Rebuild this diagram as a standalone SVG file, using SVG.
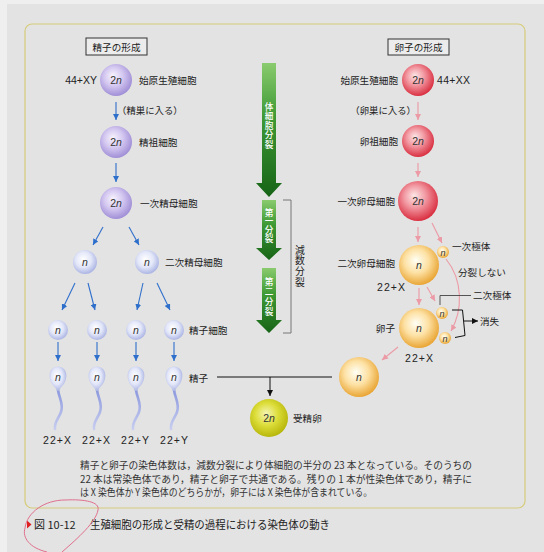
<svg xmlns="http://www.w3.org/2000/svg" width="544" height="552" viewBox="0 0 544 552">
<defs>
  <radialGradient id="gP" cx="0.45" cy="0.42" r="0.6" fx="0.4" fy="0.36">
    <stop offset="0" stop-color="#f7f3fd"/><stop offset="0.5" stop-color="#d3c7f0"/><stop offset="1" stop-color="#9d8bd5"/>
  </radialGradient>
  <radialGradient id="gN" cx="0.45" cy="0.42" r="0.6" fx="0.42" fy="0.38">
    <stop offset="0" stop-color="#ffffff"/><stop offset="0.55" stop-color="#e2e6f8"/><stop offset="1" stop-color="#a7b1e2"/>
  </radialGradient>
  <radialGradient id="gR" cx="0.45" cy="0.42" r="0.6" fx="0.4" fy="0.36">
    <stop offset="0" stop-color="#fce6e6"/><stop offset="0.45" stop-color="#f29aa3"/><stop offset="1" stop-color="#d82a3c"/>
  </radialGradient>
  <radialGradient id="gO" cx="0.45" cy="0.42" r="0.6" fx="0.42" fy="0.38">
    <stop offset="0" stop-color="#fffff6"/><stop offset="0.5" stop-color="#fde1a4"/><stop offset="1" stop-color="#e8a22e"/>
  </radialGradient>
  <radialGradient id="gY" cx="0.45" cy="0.42" r="0.6" fx="0.42" fy="0.38">
    <stop offset="0" stop-color="#f4f4b4"/><stop offset="0.5" stop-color="#dddd3a"/><stop offset="1" stop-color="#b4b408"/>
  </radialGradient>
  <linearGradient id="gG" x1="0" y1="0" x2="0" y2="1">
    <stop offset="0" stop-color="#8acb6e"/><stop offset="0.4" stop-color="#3f9a35"/><stop offset="1" stop-color="#166316"/>
  </linearGradient>
  <linearGradient id="gT" x1="0" y1="0" x2="0" y2="1">
    <stop offset="0" stop-color="#8d99de"/><stop offset="1" stop-color="#c6cdef"/>
  </linearGradient>
  <marker id="ab" markerWidth="6" markerHeight="6" refX="6" refY="3" orient="auto" markerUnits="userSpaceOnUse">
    <path d="M0,0 L6,3 L0,6 Z" fill="#2f6fcc"/>
  </marker>
  <marker id="ap" markerWidth="6" markerHeight="6" refX="6" refY="3" orient="auto" markerUnits="userSpaceOnUse">
    <path d="M0,0 L6,3 L0,6 Z" fill="#ec9aa6"/>
  </marker>
  <marker id="ak" markerWidth="6" markerHeight="6" refX="6" refY="3" orient="auto" markerUnits="userSpaceOnUse">
    <path d="M0,0 L6,3 L0,6 Z" fill="#111"/>
  </marker>
</defs>
<style>
  .jp{font-family:"Noto Sans CJK JP","Noto Sans CJK SC",sans-serif;font-size:9.6px;fill:#222}
  .end{text-anchor:end}
  .num{font-family:"Liberation Sans",Arial,sans-serif;font-size:10.5px;fill:#222}
  .mid{text-anchor:middle}
  .cn{font-family:"Liberation Sans",Arial,sans-serif;font-size:10.5px;fill:#333;text-anchor:middle}
  .it{font-style:italic}
  .blue{stroke:#2f6fcc;stroke-width:1.1;fill:none;marker-end:url(#ab)}
  .pink{stroke:#ec9aa6;stroke-width:1.1;fill:none;marker-end:url(#ap)}
  .vt{font-family:"Noto Sans CJK JP",sans-serif;font-size:8.6px;fill:#fff;writing-mode:vertical-rl;font-weight:500}
  .vk{font-family:"Noto Sans CJK JP",sans-serif;font-size:9.8px;fill:#222;writing-mode:vertical-rl}
  .tail{stroke:url(#gT);stroke-width:2.6;fill:none;stroke-linecap:round}
</style>

<!-- page background and frame -->
<rect width="544" height="552" fill="#e3e3e3"/>
<rect width="544" height="4" fill="#efefef"/>
<rect width="7" height="552" fill="#efefef"/>
<rect x="25" y="24" width="500" height="484" rx="7" fill="#e3e3e3" stroke="#d6cc7a" stroke-width="1.2"/>

<!-- section headings -->
<g id="head-sperm">
  <rect x="86" y="38" width="61" height="17" fill="#ececec" stroke="#333" stroke-width="1"/>
  <text class="jp mid" x="116.5" y="50.5">精子の形成</text>
</g>
<g id="head-egg">
  <rect x="388" y="39" width="61" height="16" fill="#ececec" stroke="#333" stroke-width="1"/>
  <text class="jp mid" x="418.5" y="51">卵子の形成</text>
</g>

<!-- connectors -->
<g id="connectors">
  <path class="blue" d="M116,102 V120"/>
  <path class="blue" d="M116,163 V182"/>
  <path class="blue" d="M103,227 L93,245"/>
  <path class="blue" d="M129,227 L139,245"/>
  <path class="blue" d="M75,283 L62,310"/>
  <path class="blue" d="M88,283 L95,310"/>
  <path class="blue" d="M143,283 L137,310"/>
  <path class="blue" d="M157,283 L170,310"/>
  <path class="blue" d="M58,342 V361"/>
  <path class="blue" d="M97,342 V361"/>
  <path class="blue" d="M136,342 V361"/>
  <path class="blue" d="M174,342 V361"/>

  <path class="pink" d="M418,102 V120"/>
  <path class="pink" d="M418,163 V177"/>
  <path class="pink" d="M418,227 V242"/>
  <path class="pink" d="M432,223 L442,243"/>
  <path class="pink" d="M419,288 V305"/>
  <path class="pink" d="M427,287 L435,301"/>
  <path class="pink" d="M446,259 C463,280 463,310 451,331"/>
  <path class="pink" d="M398,347 L382,360"/>

  <!-- fertilisation -->
  <path d="M217,377 H332" stroke="#111" stroke-width="1" fill="none"/>
  <path d="M270,377 V396" stroke="#111" stroke-width="1" fill="none" marker-end="url(#ak)"/>

  <!-- polar body leader and bracket -->
  <path d="M471,295.5 H440 V305" stroke="#444" stroke-width="0.9" fill="none"/>
  <path d="M452,310 H462.5 L465,335.5 L455,337.5" stroke="#111" stroke-width="1" fill="none"/>
  <path d="M464,321 H478" stroke="#111" stroke-width="1" fill="none" marker-end="url(#ak)"/>
</g>

<!-- division arrows -->
<g id="div-somatic">
  <path d="M262,63 H276 V183 H282 L269,197 L256,183 H262 Z" fill="url(#gG)"/>
  <text class="vt" x="269" y="102" style="letter-spacing:1px">体細胞分裂</text>
</g>
<g id="div-first">
  <path d="M262,200 H276 V248 H282 L269,260 L256,248 H262 Z" fill="url(#gG)"/>
  <text class="vt" x="269" y="208" style="letter-spacing:0.2px">第一分裂</text>
</g>
<g id="div-second">
  <path d="M262,268 H276 V320 H282 L269,333 L256,320 H262 Z" fill="url(#gG)"/>
  <text class="vt" x="269" y="277" style="letter-spacing:1.4px">第二分裂</text>
</g>
<g id="meiosis">
  <path d="M283,200 H291 V333 H283" stroke="#777" stroke-width="1" fill="none"/>
  <text class="vk" x="300" y="245" style="letter-spacing:0.9px">減数分裂</text>
</g>

<!-- spermatogenesis -->
<g id="s-primordial">
  <circle cx="116" cy="80" r="16" fill="url(#gP)"/>
  <text class="cn" x="116" y="84">2<tspan class="it">n</tspan></text>
  <text class="num end" x="97" y="84">44+XY</text>
  <text class="jp" x="139" y="84">始原生殖細胞</text>
  <text class="jp" x="117" y="114" style="font-size:9.4px">（精巣に入る）</text>
</g>
<g id="s-spermatogonium">
  <circle cx="116" cy="142" r="16" fill="url(#gP)"/>
  <text class="cn" x="116" y="146">2<tspan class="it">n</tspan></text>
  <text class="jp" x="139" y="146">精祖細胞</text>
</g>
<g id="s-primary">
  <circle cx="116" cy="203" r="16" fill="url(#gP)"/>
  <text class="cn" x="116" y="207">2<tspan class="it">n</tspan></text>
  <text class="jp" x="140" y="207">一次精母細胞</text>
</g>
<g id="s-secondary-1">
  <circle cx="85" cy="262" r="12" fill="url(#gN)"/>
  <text class="cn it" x="85" y="266">n</text>
</g>
<g id="s-secondary-2">
  <circle cx="147" cy="262" r="12" fill="url(#gN)"/>
  <text class="cn it" x="147" y="266">n</text>
  <text class="jp" x="165" y="266">二次精母細胞</text>
</g>
<g id="s-spermatids">
  <circle cx="58" cy="330" r="10" fill="url(#gN)"/>
  <text class="cn it" x="58" y="334">n</text>
  <circle cx="97" cy="330" r="10" fill="url(#gN)"/>
  <text class="cn it" x="97" y="334">n</text>
  <circle cx="136" cy="330" r="10" fill="url(#gN)"/>
  <text class="cn it" x="136" y="334">n</text>
  <circle cx="174" cy="330" r="10" fill="url(#gN)"/>
  <text class="cn it" x="174" y="334">n</text>
  <text class="jp" x="189" y="334">精子細胞</text>
</g>
<g id="s-sperm">
  <path class="tail" d="M58,390 C59,398 64,404 61,412 C59,418 54,422 55,429"/>
  <path class="tail" d="M97,390 C98,398 103,404 100,412 C98,418 93,422 94,429"/>
  <path class="tail" d="M136,390 C137,398 142,404 139,412 C137,418 132,422 133,429"/>
  <path class="tail" d="M174,390 C175,398 180,404 177,412 C175,418 170,422 171,429"/>
  <path d="M58,366.5 C68.5,366.5 69,381 60.5,388 L59,391 H57 L55.5,388 C47,381 47.5,366.5 58,366.5 Z" fill="url(#gN)"/>
  <path d="M97,366.5 C107.5,366.5 108,381 99.5,388 L98,391 H96 L94.5,388 C86,381 86.5,366.5 97,366.5 Z" fill="url(#gN)"/>
  <path d="M136,366.5 C146.5,366.5 147,381 138.5,388 L137,391 H135 L133.5,388 C125,381 125.5,366.5 136,366.5 Z" fill="url(#gN)"/>
  <path d="M174,366.5 C184.5,366.5 185,381 176.5,388 L175,391 H173 L171.5,388 C163,381 163.5,366.5 174,366.5 Z" fill="url(#gN)"/>
  <text class="cn it" x="58" y="381">n</text>
  <text class="cn it" x="97" y="381">n</text>
  <text class="cn it" x="136" y="381">n</text>
  <text class="cn it" x="174" y="381">n</text>
  <text class="jp" x="189" y="382">精子</text>
  <text class="num mid" x="57" y="444" textLength="28">22+X</text>
  <text class="num mid" x="96" y="444" textLength="28">22+X</text>
  <text class="num mid" x="135" y="444" textLength="28">22+Y</text>
  <text class="num mid" x="174" y="444" textLength="28">22+Y</text>
</g>

<!-- oogenesis -->
<g id="e-primordial">
  <circle cx="418" cy="80" r="16" fill="url(#gR)"/>
  <text class="cn" x="418" y="84">2<tspan class="it">n</tspan></text>
  <text class="jp end" x="398" y="84">始原生殖細胞</text>
  <text class="num" x="437" y="84" textLength="33">44+XX</text>
  <text class="jp end" x="416" y="114" style="font-size:9.4px">（卵巣に入る）</text>
</g>
<g id="e-oogonium">
  <circle cx="418" cy="141" r="16" fill="url(#gR)"/>
  <text class="cn" x="418" y="145">2<tspan class="it">n</tspan></text>
  <text class="jp end" x="398" y="145">卵祖細胞</text>
</g>
<g id="e-primary">
  <circle cx="418" cy="201" r="20" fill="url(#gR)"/>
  <text class="cn" x="418" y="205">2<tspan class="it">n</tspan></text>
  <text class="jp end" x="395" y="205">一次卵母細胞</text>
</g>
<g id="e-secondary">
  <circle cx="419" cy="265" r="20" fill="url(#gO)"/>
  <text class="cn it" x="419" y="269">n</text>
  <text class="jp end" x="395" y="267">二次卵母細胞</text>
  <text class="num mid" x="391" y="291" textLength="28">22+X</text>
</g>
<g id="e-polar-1">
  <circle cx="443" cy="252" r="6" fill="url(#gO)"/>
  <text class="cn it" x="443" y="255.5" style="font-size:9px">n</text>
  <text class="jp" x="452" y="250">一次極体</text>
  <text class="jp" x="458" y="276">分裂しない</text>
</g>
<g id="e-ovum">
  <circle cx="419" cy="328" r="20" fill="url(#gO)"/>
  <text class="cn it" x="419" y="332">n</text>
  <text class="jp end" x="395" y="332">卵子</text>
  <text class="num mid" x="419" y="362" textLength="28">22+X</text>
</g>
<g id="e-polar-2">
  <circle cx="442" cy="313" r="6" fill="url(#gO)"/>
  <text class="cn it" x="442" y="316.5" style="font-size:9px">n</text>
  <circle cx="445" cy="338" r="6" fill="url(#gO)"/>
  <text class="cn it" x="445" y="341.5" style="font-size:9px">n</text>
  <text class="jp" x="473" y="299">二次極体</text>
  <text class="jp" x="480" y="325">消失</text>
</g>
<g id="e-egg">
  <circle cx="359" cy="377" r="20" fill="url(#gO)"/>
  <text class="cn it" x="359" y="381">n</text>
</g>

<!-- zygote -->
<g id="zygote">
  <circle cx="269" cy="418" r="19" fill="url(#gY)"/>
  <text class="cn" x="269" y="422">2<tspan class="it">n</tspan></text>
  <text class="jp" x="293" y="422">受精卵</text>
</g>

<!-- explanatory text -->
<g id="note" class="jp" style="font-size:9.8px;fill:#333">
  <text x="80" y="469" textLength="392" lengthAdjust="spacingAndGlyphs">精子と卵子の染色体数は，減数分裂により体細胞の半分の 23 本となっている。そのうちの</text>
  <text x="80" y="482.5" textLength="392" lengthAdjust="spacingAndGlyphs">22 本は常染色体であり，精子と卵子で共通である。残りの 1 本が性染色体であり，精子に</text>
  <text x="80" y="496" textLength="292" lengthAdjust="spacingAndGlyphs">は X 染色体か Y 染色体のどちらかが，卵子には X 染色体が含まれている。</text>
</g>

<!-- figure caption -->
<g id="caption">
  <polygon points="27,520.5 31.5,524.5 27,528.5" fill="#e02020"/>
  <text class="jp" x="34" y="528.5" style="font-size:11px;fill:#222">図 10-12</text>
  <text class="jp" x="90" y="528.5" style="font-size:11px;fill:#222" textLength="240" lengthAdjust="spacingAndGlyphs">生殖細胞の形成と受精の過程における染色体の動き</text>
</g>

<!-- pen mark -->
<path d="M47,552 C30,548 22,538 25,528 C27,512 45,500 65,500 C85,499 100,502 98,510 C96,522 78,538 62,552" fill="none" stroke="#e0708c" stroke-width="1"/>
</svg>
